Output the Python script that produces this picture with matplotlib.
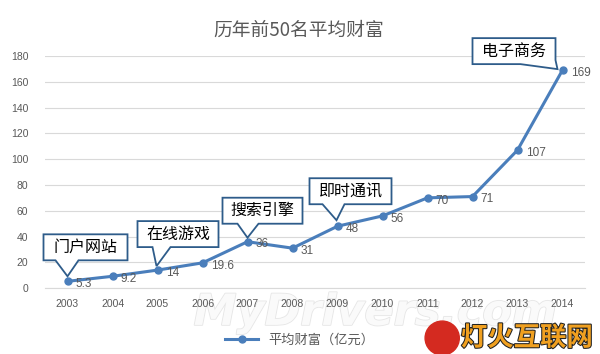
import matplotlib
matplotlib.use("Agg")
import matplotlib.pyplot as plt
import matplotlib.patheffects as pe
import matplotlib.transforms as mtransforms
from matplotlib.patches import Ellipse, Polygon

plt.rcParams['font.family'] = ['Noto Sans CJK SC', 'DejaVu Sans']

# data
years = ['2003', '2004', '2005', '2006', '2007', '2008',
         '2009', '2010', '2011', '2012', '2013', '2014']
wealth = [5.3, 9.2, 14, 19.6, 36, 31, 48, 56, 70, 71, 107, 169]
value_labels = ['5.3', '9.2', '14', '19.6', '36', '31', '48', '56', '70', '71', '107', '169']

# callouts attached to these years
callout_idx = [0, 2, 4, 6, 11]
callout_text = ['门户网站', '在线游戏', '搜索引擎', '即时通讯', '电子商务']

# callout shapes in pixels relative to the point (y up):
# box left, right, bottom, top, pointer base start, pointer base end, tip
callout_shape = [
    (-24, 60, 21, 47, -12, 11, (0, 5)),
    (-20, 61, 23, 49, -5, 13, (-1, 4)),
    (-25, 55, 18, 44, -10, 11, (0, 4)),
    (-28, 54, 22, 48, -15, 7, (-1, 6)),
    (-90, -7, 6, 32, -42, None, (-5, 1)),
]

line_color = '#4A7EBB'
grey = '#595959'
box_edge = '#2E5C8A'

fig = plt.figure(figsize=(6, 3.54), dpi=100)
ax = fig.add_axes([0.075, 0.186, 0.9, 0.656])
ax.set_facecolor('none')

x = list(range(len(years)))
ax.plot(x, wealth, color=line_color, lw=2.2, marker='o', ms=5,
        label='平均财富（亿元）', zorder=3)

for i, v in enumerate(wealth):
    ax.annotate(value_labels[i], (i, v), xytext=(6, -2), textcoords='offset points',
                ha='left', va='center', fontsize=8.5, color=grey,
                family=['Liberation Sans', 'DejaVu Sans'])

for i, txt, shp in zip(callout_idx, callout_text, callout_shape):
    L, R, B, T, b1, b2, tip = shp
    if b2 is None:
        verts = [(L, B), (b1, B), tip, (R, B + 4), (R, T), (L, T)]
    else:
        verts = [(L, B), (b1, B), tip, (b2, B), (R, B), (R, T), (L, T)]
    verts = [(px / 100, py / 100) for px, py in verts]
    trans = fig.dpi_scale_trans + mtransforms.ScaledTranslation(i, wealth[i], ax.transData)
    ax.add_patch(Polygon(verts, closed=True, transform=trans, fc='white',
                         ec=box_edge, lw=1.3, zorder=5, clip_on=False))
    ax.annotate(txt, (i, wealth[i]), xytext=((L + R) / 2, (B + T) / 2),
                textcoords='offset pixels', ha='center', va='center',
                fontsize=11.5, color='black', zorder=6)

ax.set_xlim(-0.5, len(years) - 0.5)
ax.set_ylim(0, 180)
ax.set_yticks(range(0, 181, 20))
ax.set_xticks(x)
ax.set_xticklabels(years)
ax.tick_params(length=0, labelsize=7.5, labelcolor=grey)
ax.tick_params(axis='x', pad=8)
ax.tick_params(axis='y', pad=12)
for lab in ax.get_xticklabels() + ax.get_yticklabels():
    lab.set_family(['Liberation Sans', 'DejaVu Sans'])
ax.grid(axis='y', color='#D9D9D9', lw=0.8)
ax.set_axisbelow(True)
for s in ['top', 'right', 'left']:
    ax.spines[s].set_visible(False)
ax.spines['bottom'].set_color('#D9D9D9')

fig.text(0.497, 0.915, '历年前50名平均财富', ha='center', va='center',
         fontsize=13.5, color=grey)

fig.legend(loc='center', bbox_to_anchor=(0.5, 0.04), frameon=False,
           fontsize=9.5, labelcolor=grey, handlelength=2.5)

# watermarks
fig.text(0.625, 0.116, 'MyDrivers.com', ha='center', va='center', fontsize=31,
         style='italic', weight='bold', color='#FAFAFA',
         family=['DejaVu Sans'],
         path_effects=[pe.withStroke(linewidth=1.2, foreground='#E6E6E6')], zorder=-1)
fig.add_artist(Ellipse((0.737, 0.045), 0.057, 0.096, transform=fig.transFigure,
                       color='#D42A20', zorder=11))
fig.text(0.878, 0.045, '灯火互联网', ha='center', va='center', fontsize=19,
         weight='bold', color='#F0A020',
         path_effects=[pe.withStroke(linewidth=1.5, foreground='#222222')], zorder=12)

fig.savefig('out.png', dpi=100)
